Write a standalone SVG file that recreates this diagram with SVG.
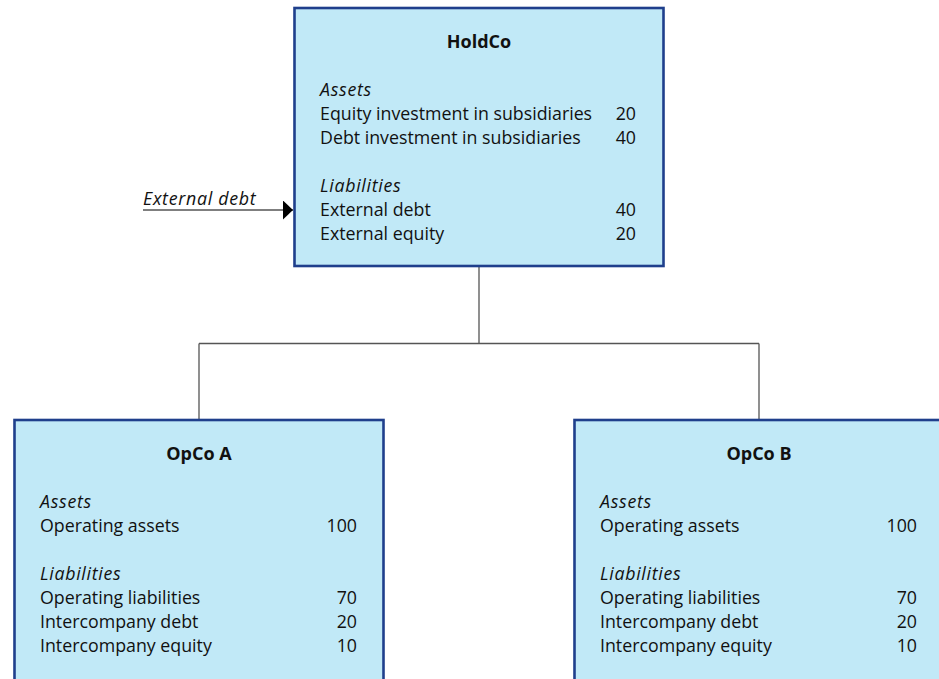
<svg xmlns="http://www.w3.org/2000/svg" width="939" height="679" viewBox="0 0 939 679">
<style>
.box{fill:#c1e9f7;stroke:#1f3f8c;stroke-width:2.6}
.t{font-family:"Open Sans","Noto Sans",sans-serif;font-size:17.8px;font-weight:500;fill:#111}
.b{font-weight:bold;font-size:18px;text-anchor:middle}
.i{font-style:italic;letter-spacing:0.7px}
.n{text-anchor:end}
.con{fill:none;stroke:#555;stroke-width:1.3}
</style>
<defs>
<marker id="ah" markerWidth="10" markerHeight="19" refX="10" refY="9.5" orient="auto" markerUnits="userSpaceOnUse">
<path d="M0,0 L10,9.5 L0,19 Z" fill="#000"/>
</marker>
</defs>
<g id="connectors">
<path class="con" d="M479,266 V343.5 M199,343.5 H759 M199,343.5 V420 M759,343.5 V420"/>
<line x1="143" y1="210" x2="293" y2="210" stroke="#555" stroke-width="1.3" marker-end="url(#ah)"/>
<text class="t i" x="143" y="205">External debt</text>
</g>
<g id="holdco">
<rect class="box" x="294.5" y="8" width="369" height="258"/>
<text class="t b" x="479" y="48">HoldCo</text>
<text class="t i" x="320" y="96">Assets</text>
<text class="t" x="320" y="120">Equity investment in subsidiaries</text>
<text class="t n" x="636" y="120">20</text>
<text class="t" x="320" y="144">Debt investment in subsidiaries</text>
<text class="t n" x="636" y="144">40</text>
<text class="t i" x="320" y="192">Liabilities</text>
<text class="t" x="320" y="216">External debt</text>
<text class="t n" x="636" y="216">40</text>
<text class="t" x="320" y="240">External equity</text>
<text class="t n" x="636" y="240">20</text>
</g>
<g id="opcoA">
<rect class="box" x="14.5" y="420" width="369" height="270"/>
<text class="t b" x="199" y="460">OpCo A</text>
<text class="t i" x="40" y="508">Assets</text>
<text class="t" x="40" y="532">Operating assets</text>
<text class="t n" x="357" y="532">100</text>
<text class="t i" x="40" y="580">Liabilities</text>
<text class="t" x="40" y="604">Operating liabilities</text>
<text class="t n" x="357" y="604">70</text>
<text class="t" x="40" y="628">Intercompany debt</text>
<text class="t n" x="357" y="628">20</text>
<text class="t" x="40" y="652">Intercompany equity</text>
<text class="t n" x="357" y="652">10</text>
</g>
<g id="opcoB">
<rect class="box" x="574.5" y="420" width="369" height="270"/>
<text class="t b" x="759" y="460">OpCo B</text>
<text class="t i" x="600" y="508">Assets</text>
<text class="t" x="600" y="532">Operating assets</text>
<text class="t n" x="917" y="532">100</text>
<text class="t i" x="600" y="580">Liabilities</text>
<text class="t" x="600" y="604">Operating liabilities</text>
<text class="t n" x="917" y="604">70</text>
<text class="t" x="600" y="628">Intercompany debt</text>
<text class="t n" x="917" y="628">20</text>
<text class="t" x="600" y="652">Intercompany equity</text>
<text class="t n" x="917" y="652">10</text>
</g>
</svg>
